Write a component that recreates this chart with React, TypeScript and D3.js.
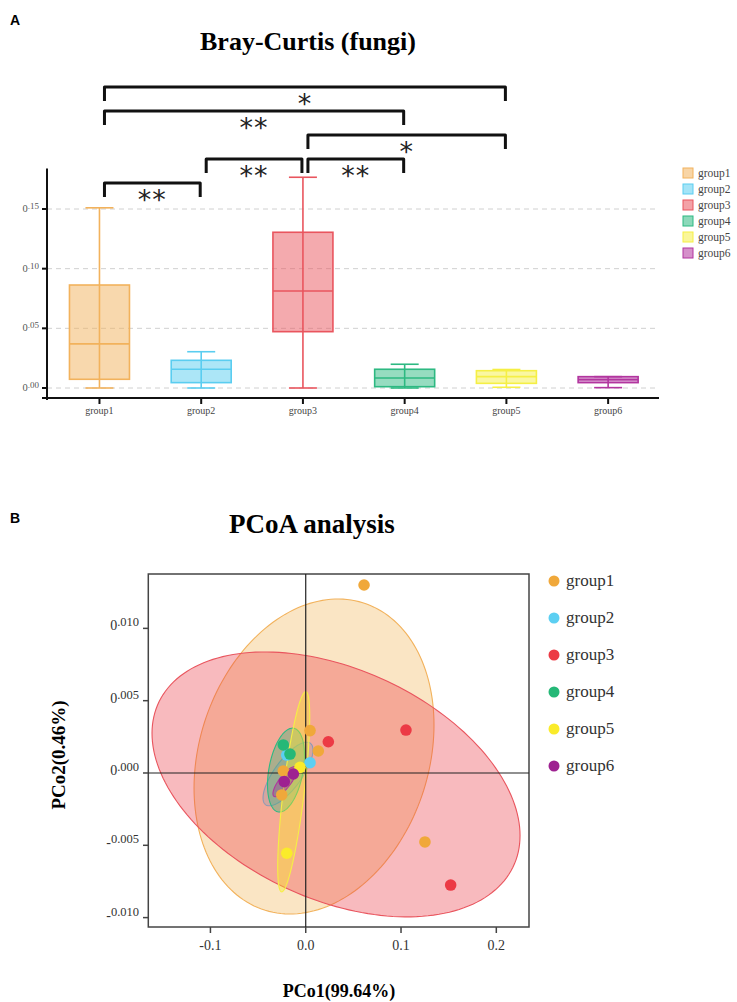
import React, { useEffect, useRef } from 'react';
import * as d3 from 'd3';

// ---- data ----
const groups = ['group1', 'group2', 'group3', 'group4', 'group5', 'group6'];
const boxColors = ['#F2B25C', '#5ACDF0', '#E9555E', '#2DB982', '#F5EF45', '#B2359F'];
const dotColors = ['#F0A83A', '#5CCFF2', '#EC3A45', '#25B877', '#FAEB2A', '#9E2191'];

// Bray-Curtis box stats per group
const boxMin = [0.0, 0.0, 0.0, 0.0, 0.0006, 0.0003];
const boxQ1 = [0.0073, 0.0045, 0.0472, 0.0011, 0.0039, 0.0045];
const boxMedian = [0.037, 0.0157, 0.0813, 0.0084, 0.0095, 0.007];
const boxQ3 = [0.0863, 0.0232, 0.1305, 0.0157, 0.0145, 0.0095];
const boxMax = [0.151, 0.0304, 0.1766, 0.0199, 0.0155, 0.0095];
const boxTicks = [0, 0.05, 0.1, 0.15];
const boxTickLabels = ['0.00', '0.05', '0.10', '0.15'];

// significance brackets
const brackets = [
  { a: 'group1', b: 'group2', label: '**', level: 0 },
  { a: 'group2', b: 'group3', label: '**', level: 1 },
  { a: 'group3', b: 'group4', label: '**', level: 1 },
  { a: 'group3', b: 'group5', label: '*', level: 2 },
  { a: 'group1', b: 'group4', label: '**', level: 3 },
  { a: 'group1', b: 'group5', label: '*', level: 4 },
];

// PCoA sample coordinates
const pcoX = [0.0612, 0.1251, 0.0045, 0.0132, -0.0235, -0.0252, 0.0045, -0.0199, 0.1052, 0.1521, 0.0237, -0.0235, -0.0165, -0.006, -0.0199, -0.013, -0.0225];
const pcoY = [0.013, -0.00477, 0.00293, 0.00152, 0.00014, -0.00152, 0.00071, 0.00124, 0.00297, -0.00775, 0.00216, 0.00194, 0.00131, 0.00039, -0.00555, -0.00007, -0.0006];
const pcoGroup = [0, 0, 0, 0, 0, 0, 1, 1, 2, 2, 2, 3, 3, 4, 4, 5, 5];

// confidence ellipses: centre, half extents, correlation
const ellCx = [0.0087, -0.0186, 0.0318, -0.0207, -0.0126, -0.0218];
const ellCy = [0.00114, -0.00007, -0.00079, 0.0002, -0.0013, -0.0006];
const ellSx = [0.1259, 0.0262, 0.1931, 0.0194, 0.0168, 0.0126];
const ellSy = [0.01089, 0.0022, 0.00916, 0.0029, 0.00692, 0.00104];
const ellR = [0.2, 0.75, -0.386, 0.35, 0.75, 0.8];
const ellOpacity = [0.3, 0.3, 0.35, 0.35, 0.4, 0.35];

const pcoXTicks = [-0.1, 0, 0.1, 0.2];
const pcoXTickLabels = ['-0.1', '0.0', '0.1', '0.2'];
const pcoYTicks = [0.01, 0.005, 0, -0.005, -0.01];
const pcoYTickLabels = ['0.010', '0.005', '0.000', '-0.005', '-0.010'];

const serif = "'Liberation Serif', 'Times New Roman', serif";

const App = () => {
  const ref = useRef(null);

  useEffect(() => {
    const root = d3.select(ref.current);
    root.selectAll('*').remove();

    const svg = root.append('svg')
      .attr('width', 737)
      .attr('height', 1002)
      .style('display', 'block')
      .style('font-family', serif);

    // ================= Panel A =================
    svg.append('text').attr('x', 10).attr('y', 25)
      .style('font-family', "'Liberation Sans', Arial, sans-serif")
      .style('font-weight', 'bold').style('font-size', '14px').text('A');

    svg.append('text').attr('x', 308).attr('y', 50)
      .attr('text-anchor', 'middle')
      .style('font-weight', 'bold').style('font-size', '26px')
      .text('Bray-Curtis (fungi)');

    const x = d3.scaleBand().domain(groups).range([48.6, 659]).padding(0);
    const cx = (g) => x(g) + x.bandwidth() / 2;
    const y = d3.scaleLinear().domain([0, 0.15]).range([388, 209]);
    const left = 47;
    const right = 659;
    const boxW = 60;
    const capW = 28;

    const a = svg.append('g');

    // gridlines
    a.selectAll('line.grid').data(boxTicks).enter().append('line')
      .attr('x1', left).attr('x2', right)
      .attr('y1', d => y(d)).attr('y2', d => y(d))
      .attr('stroke', '#d0d0d0').attr('stroke-width', 1)
      .attr('stroke-dasharray', '5,4');

    // axes
    a.append('line').attr('x1', left).attr('x2', left)
      .attr('y1', y(0.184)).attr('y2', 400)
      .attr('stroke', '#111').attr('stroke-width', 2);
    a.append('line').attr('x1', 42).attr('x2', right)
      .attr('y1', 398).attr('y2', 398)
      .attr('stroke', '#111').attr('stroke-width', 2);

    boxTicks.forEach((t, i) => {
      a.append('line').attr('x1', left - 5).attr('x2', left)
        .attr('y1', y(t)).attr('y2', y(t))
        .attr('stroke', '#111').attr('stroke-width', 2);
      const lab = boxTickLabels[i];
      const tx = a.append('text').attr('x', left - 8).attr('y', y(t) + 3)
        .attr('text-anchor', 'end').attr('fill', '#555').style('font-size', '10.5px');
      tx.append('tspan').text(lab.slice(0, 1));
      tx.append('tspan').attr('dy', -3).style('font-size', '9px').text(lab.slice(1));
    });

    groups.forEach((g) => {
      a.append('line').attr('x1', cx(g)).attr('x2', cx(g))
        .attr('y1', 398).attr('y2', 404)
        .attr('stroke', '#111').attr('stroke-width', 2);
      a.append('text').attr('x', cx(g)).attr('y', 414)
        .attr('text-anchor', 'middle').attr('fill', '#444')
        .style('font-size', '10px').text(g);
    });

    // boxes
    groups.forEach((g, i) => {
      const c = cx(g);
      const col = boxColors[i];
      const bx = a.append('g');
      bx.append('line').attr('x1', c).attr('x2', c)
        .attr('y1', y(boxMin[i])).attr('y2', y(boxMax[i]))
        .attr('stroke', col).attr('stroke-width', 1.6);
      [boxMin[i], boxMax[i]].forEach(v => {
        bx.append('line').attr('x1', c - capW / 2).attr('x2', c + capW / 2)
          .attr('y1', y(v)).attr('y2', y(v))
          .attr('stroke', col).attr('stroke-width', 1.6);
      });
      bx.append('rect').attr('x', c - boxW / 2).attr('width', boxW)
        .attr('y', y(boxQ3[i])).attr('height', y(boxQ1[i]) - y(boxQ3[i]))
        .attr('fill', col).attr('fill-opacity', 0.5)
        .attr('stroke', col).attr('stroke-width', 1.6);
      bx.append('line').attr('x1', c - boxW / 2).attr('x2', c + boxW / 2)
        .attr('y1', y(boxMedian[i])).attr('y2', y(boxMedian[i]))
        .attr('stroke', col).attr('stroke-width', 1.6);
    });

    // significance brackets
    const levelY = d3.scaleLinear().domain([0, 4]).range([183, 87]);
    brackets.forEach((b) => {
      const x1 = cx(b.a) + 5;
      const x2 = cx(b.b) - 1;
      const yy = levelY(b.level);
      a.append('path')
        .attr('d', `M${x1},${yy + 14}V${yy}H${x2}V${yy + 14}`)
        .attr('fill', 'none').attr('stroke', '#111').attr('stroke-width', 3)
        .attr('stroke-linejoin', 'round');
      a.append('text').attr('x', (x1 + x2) / 2).attr('y', yy + 26)
        .attr('text-anchor', 'middle').attr('fill', '#222')
        .style('font-family', "'DejaVu Sans', sans-serif")
        .style('font-size', '27px').style('letter-spacing', '1px')
        .text(b.label);
    });

    // legend A
    groups.forEach((g, i) => {
      const ly = 173 + i * 16;
      a.append('rect').attr('x', 683).attr('y', ly - 5).attr('width', 10).attr('height', 10)
        .attr('fill', boxColors[i]).attr('fill-opacity', 0.55)
        .attr('stroke', boxColors[i]).attr('stroke-width', 1);
      a.append('text').attr('x', 698).attr('y', ly + 4)
        .attr('fill', '#444').style('font-size', '11.5px').text(g);
    });

    // ================= Panel B =================
    svg.append('text').attr('x', 10).attr('y', 523)
      .style('font-family', "'Liberation Sans', Arial, sans-serif")
      .style('font-weight', 'bold').style('font-size', '14px').text('B');

    svg.append('text').attr('x', 312).attr('y', 533)
      .attr('text-anchor', 'middle')
      .style('font-weight', 'bold').style('font-size', '27px')
      .text('PCoA analysis');

    const px = d3.scaleLinear().domain([-0.1652, 0.2343]).range([148.3, 529]);
    const py = d3.scaleLinear().domain([-0.01065, 0.01376]).range([927, 574]);
    const b = svg.append('g');

    // ellipses
    const steps = d3.range(0, 2 * Math.PI, Math.PI / 90);
    const ell = d3.line().x(d => px(d[0])).y(d => py(d[1])).curve(d3.curveLinearClosed);
    groups.forEach((g, i) => {
      const pts = steps.map(t => [
        ellCx[i] + ellSx[i] * Math.cos(t),
        ellCy[i] + ellSy[i] * (ellR[i] * Math.cos(t) + Math.sqrt(1 - ellR[i] * ellR[i]) * Math.sin(t)),
      ]);
      b.append('path').attr('d', ell(pts))
        .attr('fill', dotColors[i]).attr('fill-opacity', ellOpacity[i])
        .attr('stroke', boxColors[i]).attr('stroke-width', 1.1);
    });

    // frame & zero lines
    b.append('rect').attr('x', px.range()[0]).attr('y', py.range()[1])
      .attr('width', px.range()[1] - px.range()[0])
      .attr('height', py.range()[0] - py.range()[1])
      .attr('fill', 'none').attr('stroke', '#444').attr('stroke-width', 1.5);
    b.append('line').attr('x1', px(0)).attr('x2', px(0))
      .attr('y1', py.range()[1]).attr('y2', py.range()[0])
      .attr('stroke', '#222').attr('stroke-width', 1.2);
    b.append('line').attr('x1', px.range()[0]).attr('x2', px.range()[1])
      .attr('y1', py(0)).attr('y2', py(0))
      .attr('stroke', '#222').attr('stroke-width', 1.2);

    // points
    b.selectAll('circle.pt').data(pcoX).enter().append('circle')
      .attr('cx', d => px(d))
      .attr('cy', (d, i) => py(pcoY[i]))
      .attr('r', 5.8)
      .attr('fill', (d, i) => dotColors[pcoGroup[i]]);

    // ticks
    pcoXTicks.forEach((t, i) => {
      b.append('line').attr('x1', px(t)).attr('x2', px(t))
        .attr('y1', 927).attr('y2', 933)
        .attr('stroke', '#444').attr('stroke-width', 1.5);
      b.append('text').attr('x', px(t)).attr('y', 950)
        .attr('text-anchor', 'middle').attr('fill', '#333')
        .style('font-size', '14px').text(pcoXTickLabels[i]);
    });
    pcoYTicks.forEach((t, i) => {
      b.append('line').attr('x1', 143).attr('x2', 148.3)
        .attr('y1', py(t)).attr('y2', py(t))
        .attr('stroke', '#444').attr('stroke-width', 1.5);
      const lab = pcoYTickLabels[i];
      const tx = b.append('text').attr('x', 139).attr('y', py(t) + 2)
        .attr('text-anchor', 'end').attr('fill', '#333').style('font-size', '14px');
      tx.append('tspan').text(lab.slice(0, 1));
      tx.append('tspan').attr('dy', -4).style('font-size', '12.5px').text(lab.slice(1));
    });

    // axis titles
    b.append('text').attr('x', 339).attr('y', 997)
      .attr('text-anchor', 'middle')
      .style('font-weight', 'bold').style('font-size', '18px')
      .text('PCo1(99.64%)');
    b.append('text')
      .attr('transform', 'translate(65,755) rotate(-90)')
      .attr('text-anchor', 'middle')
      .style('font-weight', 'bold').style('font-size', '19px')
      .text('PCo2(0.46%)');

    // legend B
    groups.forEach((g, i) => {
      const ly = 581 + i * 37;
      b.append('circle').attr('cx', 554).attr('cy', ly).attr('r', 5.5).attr('fill', dotColors[i]);
      b.append('text').attr('x', 566).attr('y', ly + 5)
        .attr('fill', '#333').style('font-size', '17px').text(g);
    });
  }, []);

  return <div ref={ref} style={{ position: 'absolute', left: 0, top: 0 }} />;
};

export default App;
